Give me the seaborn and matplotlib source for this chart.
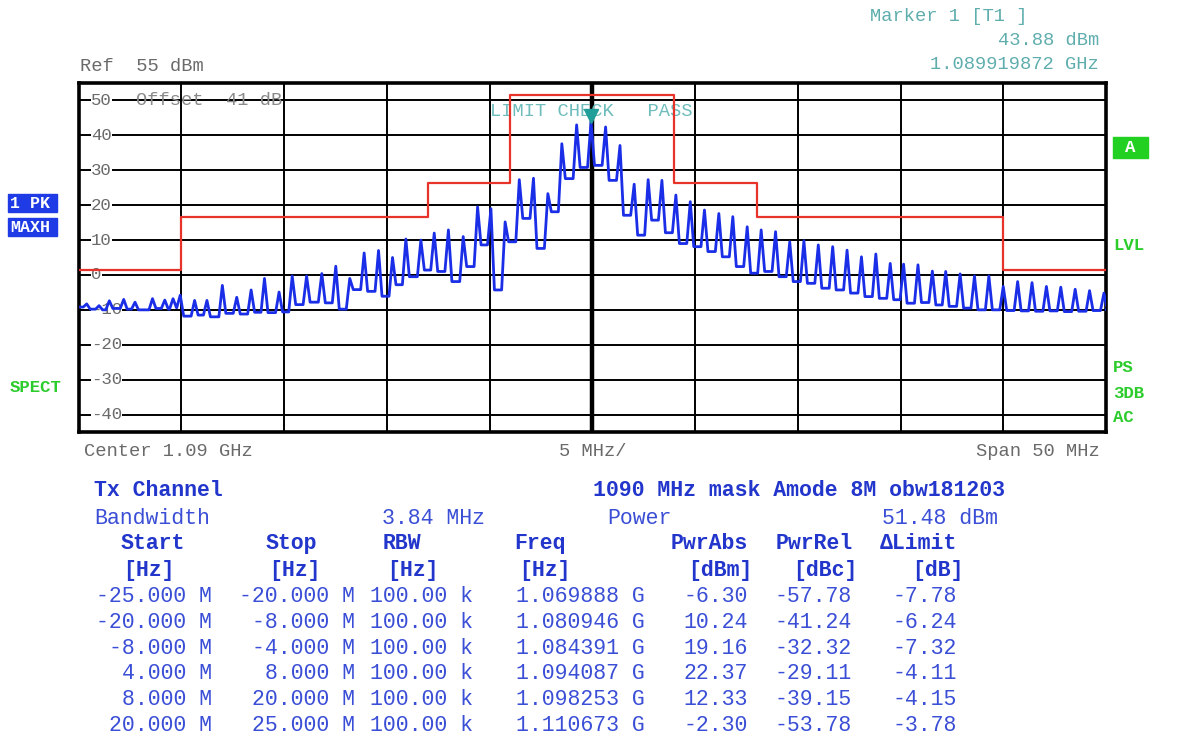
import matplotlib
matplotlib.use("Agg")
import matplotlib.pyplot as plt
import matplotlib.patches as mpatches
from matplotlib.transforms import offset_copy
import seaborn as sns
import pandas as pd

# ---- data ----
# spectrum trace: peaks of the pulse lines and the floor between neighbouring peaks
peak_mhz = [-24.6, -24.0, -23.5, -22.8, -22.25, -21.4, -20.8, -20.4, -20.05,
            -19.35, -18.75, -18.0, -17.3, -16.6, -15.95, -15.24, -14.6, -13.9,
            -13.16, -12.48, -11.8, -11.1, -10.4, -9.72, -9.07, -8.34, -7.69,
            -7.0, -6.28, -5.58, -4.93, -4.24, -3.55, -2.86, -2.16, -1.48,
            -0.76, -0.06, 0.65, 1.35, 2.04, 2.72, 3.39, 4.07, 4.77, 5.46,
            6.16, 6.84, 7.54, 8.22, 8.92, 9.61, 10.3, 11.0, 11.7, 12.4, 13.1,
            13.8, 14.5, 15.15, 15.85, 16.55, 17.2, 17.9, 18.6, 19.3, 20.0,
            20.7, 21.4, 22.1, 22.8, 23.5, 24.2, 24.9]
peak_dbm = [-8.3, -8.8, -7.4, -7.0, -7.8, -6.8, -7.2, -6.8, -5.8,
            -7.3, -7.3, -3.0, -6.4, -4.3, -1.0, -4.9, -0.3, -0.3,
            0.4, 2.5, -1.0, 6.3, 7.0, 5.0, 10.3, 10.0, 12.0,
            12.9, 11.0, 19.5, 19.0, 15.2, 27.3, 27.7, 23.3, 37.6,
            43.0, 43.9, 42.4, 37.1, 26.0, 27.3, 27.1, 22.9, 21.0, 18.6,
            17.6, 16.7, 13.8, 12.9, 12.4, 9.5, 9.8, 8.6, 8.1, 7.1, 5.2,
            6.0, 3.3, 3.1, 2.9, 1.1, 1.0, 0.3, -0.3, -0.3, -3.3,
            -1.9, -2.2, -3.3, -3.5, -4.1, -4.5, -5.2]
floor_dbm = [-9.8, -10.0, -9.6, -9.8, -10.0, -9.6, -9.8, -9.4, -11.8,
             -11.5, -12.0, -11.0, -11.2, -10.7, -10.8, -10.6, -8.5, -7.8,
             -8.0, -9.8, -4.2, -4.7, -6.1, -2.8, -0.5, 1.4, 1.0,
             -1.9, 2.4, 8.6, -4.3, 9.5, 16.2, 7.6, 18.1, 27.6,
             30.8, 31.4, 27.1, 17.1, 11.4, 15.7, 12.1, 9.0, 8.1, 6.7,
             5.2, 2.4, 0.5, 1.0, -0.5, -1.9, -2.4, -3.8, -4.3, -5.2,
             -6.2, -6.7, -7.1, -8.1, -7.9, -8.6, -9.0, -9.5, -10.0, -10.0,
             -10.2, -10.3, -10.4, -10.3, -10.5, -10.4, -10.2]
start_dbm = -9.2
end_dbm = -10.0

# spectrum emission mask (relative to channel power)
mask_edges_mhz = [-25, -20, -8, -4, 4, 8, 20, 25]
mask_dbc = [-50, -35, -25, 0, -25, -35, -50]
channel_power_dbm = 51.48

marker_mhz = -0.08
marker_dbm = 43.88

# result table
tbl_start = ["-25.000 M", "-20.000 M", "-8.000 M", "4.000 M", "8.000 M", "20.000 M"]
tbl_stop = ["-20.000 M", "-8.000 M", "-4.000 M", "8.000 M", "20.000 M", "25.000 M"]
tbl_rbw = ["100.00 k"] * 6
tbl_freq = ["1.069888 G", "1.080946 G", "1.084391 G", "1.094087 G", "1.098253 G", "1.110673 G"]
tbl_pwrabs = ["-6.30", "10.24", "19.16", "22.37", "12.33", "-2.30"]
tbl_pwrrel = ["-57.78", "-41.24", "-32.32", "-29.11", "-39.15", "-53.78"]
tbl_dlimit = ["-7.78", "-6.24", "-7.32", "-4.11", "-4.15", "-3.78"]

# ---- build trace (peak spikes with a floor between them) ----
half_w = 0.17
xs, ys = [-25.0, peak_mhz[0] - half_w], [start_dbm, start_dbm]
for i, (pf, pl) in enumerate(zip(peak_mhz, peak_dbm)):
    if i > 0:
        xs += [peak_mhz[i - 1] + half_w, pf - half_w]
        ys += [floor_dbm[i - 1], floor_dbm[i - 1]]
    xs.append(pf)
    ys.append(pl)
xs += [peak_mhz[-1] + half_w, 25.0]
ys += [end_dbm, end_dbm]
trace = pd.DataFrame({"mhz": xs, "dbm": ys})

mask_abs = [channel_power_dbm + v for v in mask_dbc]
mask = pd.DataFrame({"mhz": mask_edges_mhz, "dbm": mask_abs + [mask_abs[-1]]})

# ---- figure ----
sns.set_theme(style="white")
plt.rcParams['font.family'] = ['Liberation Mono', 'DejaVu Sans']

W, H = 1188, 739
fig = plt.figure(figsize=(W / 100, H / 100), dpi=100)
fig.patch.set_facecolor("white")
ax = fig.add_axes([78.5 / W, 1 - 432 / H, (1106 - 78.5) / W, (432 - 83) / H])


def fp(x, y):
    return x / W, 1 - y / H


ax.set_xlim(-25, 25)
ax.set_ylim(-45, 55)
ax.set_xticks(range(-20, 25, 5))
ax.set_yticks(range(-40, 55, 10))
ax.set_xticklabels([])
ax.set_yticklabels([])
ax.tick_params(length=0)
ax.set_axisbelow(True)
ax.grid(True, color="black", linewidth=1.4)
ax.axvline(0, color="black", linewidth=3.2, zorder=1)
for s in ax.spines.values():
    s.set_color("black")
    s.set_linewidth(2.6)

grey = "#6a6a6a"
# y labels sit inside the frame, on the grid lines
for v in range(-40, 55, 10):
    ax.text((91 - 78.5) / (1106 - 78.5), v, str(v), transform=ax.get_yaxis_transform(),
            ha="left", va="center", fontsize=12.5, color=grey, zorder=2,
            bbox=dict(facecolor="white", edgecolor="none", pad=0.3))

ax.text(-22.2, 50, "Offset  41 dB", ha="left", va="center", fontsize=13.5, color="#8a8a8a", zorder=2)
ax.text(-5.0, 46.8, "LIMIT CHECK   PASS", ha="left", va="center", fontsize=13.5, color="#6fbcbc", zorder=2)

sns.lineplot(data=mask, x="mhz", y="dbm", ax=ax, color="#e8332a", linewidth=1.6,
             drawstyle="steps-post", estimator=None, zorder=3)
sns.lineplot(data=trace, x="mhz", y="dbm", ax=ax, color="#1a2ee8", linewidth=2.0,
             sort=False, estimator=None, zorder=4)
ax.plot([marker_mhz], [marker_dbm], marker="v", color="#1f9e9a", markersize=10,
        linestyle="none", zorder=5,
        transform=offset_copy(ax.transData, fig=fig, y=4, units="points"))
ax.set_xlabel("")
ax.set_ylabel("")

# ---- header / footer texts (baseline positions in pixels) ----
fig.text(*fp(80, 71), "Ref  55 dBm", ha="left", va="baseline", fontsize=13.5, color=grey)
teal = "#5fadad"
fig.text(*fp(870, 21), "Marker 1 [T1 ]", ha="left", va="baseline", fontsize=13.5, color=teal)
fig.text(*fp(1099, 45), "43.88 dBm", ha="right", va="baseline", fontsize=13.5, color=teal)
fig.text(*fp(1099, 69), "1.089919872 GHz", ha="right", va="baseline", fontsize=13.5, color=teal)

fig.text(*fp(84, 456), "Center 1.09 GHz", ha="left", va="baseline", fontsize=13.5, color=grey)
fig.text(*fp(593, 456), "5 MHz/", ha="center", va="baseline", fontsize=13.5, color=grey)
fig.text(*fp(1100, 456), "Span 50 MHz", ha="right", va="baseline", fontsize=13.5, color=grey)

# side annotations
blue_box = "#1f3be6"
green = "#2bcc2b"
for (y0, y1, label) in [(194, 212, "1 PK"), (218, 236, "MAXH")]:
    fig.patches.append(mpatches.Rectangle(fp(8, y1), 49 / W, (y1 - y0) / H,
                                          transform=fig.transFigure, color=blue_box))
    fig.text(*fp(10, (y0 + y1) / 2), label, ha="left", va="center", fontsize=12,
             fontweight="bold", color="white")
fig.text(*fp(10, 388), "SPECT", ha="left", va="center", fontsize=12.5, fontweight="bold", color=green)

fig.patches.append(mpatches.Rectangle(fp(1113, 158), 35 / W, 21 / H,
                                      transform=fig.transFigure, color="#22d022"))
fig.text(*fp(1130.5, 147.5), "A", ha="center", va="center", fontsize=12.5, fontweight="bold", color="white")
for y, label in [(246, "LVL"), (368, "PS"), (393, "3DB"), (418, "AC")]:
    fig.text(*fp(1113, y), label, ha="left", va="center", fontsize=12.5, fontweight="bold", color=green)

# ---- result table ----
tb = "#2236cc"
tv = "#3a4ed6"
fs = 15.5
bl = 6  # centre -> baseline offset in pixels
fig.text(*fp(94, 490 + bl), "Tx Channel", ha="left", va="baseline", fontsize=fs, fontweight="bold", color=tb)
fig.text(*fp(593, 490 + bl), "1090 MHz mask Amode 8M obw181203", ha="left", va="baseline",
         fontsize=fs, fontweight="bold", color=tb)
fig.text(*fp(94, 518 + bl), "Bandwidth", ha="left", va="baseline", fontsize=fs, color=tv)
fig.text(*fp(485, 518 + bl), "3.84 MHz", ha="right", va="baseline", fontsize=fs, color=tv)
fig.text(*fp(607, 518 + bl), "Power", ha="left", va="baseline", fontsize=fs, color=tv)
fig.text(*fp(998, 518 + bl), "51.48 dBm", ha="right", va="baseline", fontsize=fs, color=tv)

col_right = [212, 355, 473, 645, 748, 852, 957]
heads1 = [(121, "Start"), (266, "Stop"), (383, "RBW"), (514, "Freq"),
          (671, "PwrAbs"), (776, "PwrRel"), (880, "ΔLimit")]
heads2 = [(123, "[Hz]"), (269, "[Hz]"), (387, "[Hz]"), (519, "[Hz]"),
          (688, "[dBm]"), (793, "[dBc]"), (912, "[dB]")]
for x, t in heads1:
    fig.text(*fp(x, 543 + bl), t, ha="left", va="baseline", fontsize=fs, fontweight="bold", color=tb)
for x, t in heads2:
    fig.text(*fp(x, 570 + bl), t, ha="left", va="baseline", fontsize=fs, fontweight="bold", color=tb)

row_y = [596, 622, 648, 673, 699, 725]
columns = [tbl_start, tbl_stop, tbl_rbw, tbl_freq, tbl_pwrabs, tbl_pwrrel, tbl_dlimit]
for xr, col in zip(col_right, columns):
    for y, t in zip(row_y, col):
        fig.text(*fp(xr, y + bl), t, ha="right", va="baseline", fontsize=fs, color=tv)

fig.savefig("out.png", dpi=100)
